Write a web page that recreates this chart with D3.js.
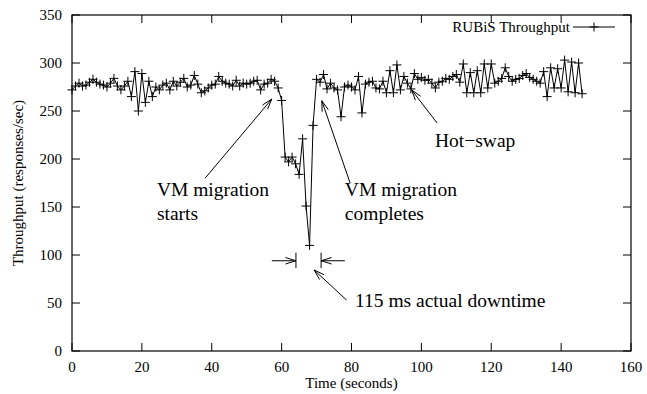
<!DOCTYPE html>
<html>
<head>
<meta charset="utf-8">
<script src="https://cdn.jsdelivr.net/npm/d3@7"></script>
<style>
  body { margin: 0; background: #fff; }
  svg text { font-family: "Liberation Serif", "Times New Roman", serif; fill: #000; }
</style>
</head>
<body>
<svg id="chart" width="647" height="394"></svg>
<script>
"use strict";

// RUBiS throughput, one sample per second (t = 0..146)
const throughput = [
  272, 276, 279, 276, 277, 280, 283, 280, 278, 277,
  275, 279, 284, 276, 272, 276, 281, 265, 291, 250,
  289, 259, 281, 265, 275, 272, 277, 279, 272, 281,
  276, 280, 284, 275, 277, 287, 278, 269, 271, 274,
  277, 278, 286, 281, 279, 278, 276, 282, 276, 279,
  278, 279, 281, 282, 272, 278, 279, 283, 281, 274,
  261, 202, 197, 202, 195, 184, 221, 151, 110, 235,
  283, 280, 288, 273, 279, 274, 272, 244, 275, 277,
  275, 272, 286, 248, 278, 280, 281, 274, 273, 281,
  269, 292, 269, 298, 272, 286, 279, 273, 289, 283,
  285, 282, 283, 279, 274, 280, 281, 284, 283, 286,
  288, 280, 299, 269, 290, 269, 292, 269, 299, 274,
  299, 279, 281, 284, 295, 286, 281, 283, 284, 287,
  289, 285, 283, 281, 279, 291, 265, 295, 274, 294,
  274, 303, 270, 301, 269, 300, 268
];
const seconds = throughput.map((_, i) => i);

const xTicks = [0, 20, 40, 60, 80, 100, 120, 140, 160];
const yTicks = [0, 50, 100, 150, 200, 250, 300, 350];
const seriesName = "RUBiS Throughput";

// annotations in data units: [tailT, tailV, headT, headV]
const noteArrows = [
  [38.1, 180, 57.2, 262.5],
  [79.6, 175, 71.5, 260.7],
  [104.5, 237.5, 97.2, 272],
  [78.6, 53, 69.3, 84.4]
];
const noteTexts = [
  { t: 24.3, v: 161.5, lines: ["VM migration", "starts"] },
  { t: 78.1, v: 161.5, lines: ["VM migration", "completes"] },
  { t: 103.9, v: 212.5, lines: ["Hot\u2212swap"] },
  { t: 81, v: 46, lines: ["115 ms actual downtime"] }
];
const downtime = { start: 64.1, end: 71.3, v: 94, lo: 86.5, hi: 102.4, from: 57.2, to: 78.1 };

const width = 647, height = 394;
const margin = { left: 72, right: 16, top: 15, bottom: 43 };

const svg = d3.select("#chart");
const x = d3.scaleLinear().domain([0, 160]).range([margin.left, width - margin.right]);
const y = d3.scaleLinear().domain([0, 350]).range([height - margin.bottom, margin.top]);

const tickLen = 8;

// ticks (inward, mirrored on all sides)
const axisG = svg.append("g").attr("stroke", "#000").attr("stroke-width", 1);
yTicks.forEach(v => {
  axisG.append("line").attr("x1", x(0)).attr("x2", x(0) + tickLen).attr("y1", y(v)).attr("y2", y(v));
  axisG.append("line").attr("x1", x(160)).attr("x2", x(160) - tickLen).attr("y1", y(v)).attr("y2", y(v));
});
xTicks.forEach(t => {
  axisG.append("line").attr("x1", x(t)).attr("x2", x(t)).attr("y1", y(0)).attr("y2", y(0) - tickLen);
  axisG.append("line").attr("x1", x(t)).attr("x2", x(t)).attr("y1", y(350)).attr("y2", y(350) + tickLen);
});
svg.append("rect")
  .attr("x", x(0)).attr("y", y(350))
  .attr("width", x(160) - x(0)).attr("height", y(0) - y(350))
  .attr("fill", "none").attr("stroke", "#000").attr("stroke-width", 1.2);

svg.append("g").selectAll("text").data(yTicks).join("text")
  .attr("x", x(0) - 10).attr("y", d => y(d) + 5)
  .attr("text-anchor", "end").attr("font-size", 15)
  .text(d => d);
svg.append("g").selectAll("text").data(xTicks).join("text")
  .attr("x", d => x(d)).attr("y", y(0) + 21)
  .attr("text-anchor", "middle").attr("font-size", 15)
  .text(d => d);

svg.append("text")
  .attr("x", (x(0) + x(160)) / 2).attr("y", 388)
  .attr("text-anchor", "middle").attr("font-size", 15)
  .text("Time (seconds)");
svg.append("text")
  .attr("transform", `translate(23,${(y(0) + y(350)) / 2}) rotate(-90)`)
  .attr("text-anchor", "middle").attr("font-size", 15)
  .text("Throughput (responses/sec)");

// data line + markers
const line = d3.line().x((d, i) => x(seconds[i])).y(d => y(d));
svg.append("path").datum(throughput)
  .attr("d", line).attr("fill", "none").attr("stroke", "#000").attr("stroke-width", 1);

const ms = 4.5;
const plus = (cx, cy) => `M${cx - ms},${cy}H${cx + ms}M${cx},${cy - ms}V${cy + ms}`;
svg.append("path")
  .attr("d", throughput.map((v, i) => plus(x(seconds[i]), y(v))).join(""))
  .attr("stroke", "#000").attr("stroke-width", 1).attr("fill", "none");

// legend
const legY = 27;
svg.append("text").attr("x", 570).attr("y", legY + 5)
  .attr("text-anchor", "end").attr("font-size", 15).text(seriesName);
svg.append("line").attr("x1", 573).attr("x2", 615).attr("y1", legY).attr("y2", legY)
  .attr("stroke", "#000");
svg.append("path").attr("d", plus(594, legY)).attr("stroke", "#000");

// arrows
function arrow(g, x1, y1, x2, y2) {
  const a = Math.atan2(y2 - y1, x2 - x1), L = 11, w = 0.3;
  g.append("line").attr("x1", x1).attr("y1", y1).attr("x2", x2).attr("y2", y2);
  g.append("path").attr("d",
    `M${x2 - L * Math.cos(a - w)},${y2 - L * Math.sin(a - w)}L${x2},${y2}L${x2 - L * Math.cos(a + w)},${y2 - L * Math.sin(a + w)}`)
    .attr("fill", "none");
}
const annG = svg.append("g").attr("stroke", "#000").attr("stroke-width", 1);
noteArrows.forEach(d => arrow(annG, x(d[0]), y(d[1]), x(d[2]), y(d[3])));

arrow(annG, x(downtime.from), y(downtime.v), x(downtime.start), y(downtime.v));
arrow(annG, x(downtime.to), y(downtime.v), x(downtime.end), y(downtime.v));
[downtime.start, downtime.end].forEach(t => {
  annG.append("line").attr("x1", x(t)).attr("x2", x(t))
    .attr("y1", y(downtime.hi)).attr("y2", y(downtime.lo));
});

noteTexts.forEach(n => {
  const tx = svg.append("text").attr("x", x(n.t)).attr("y", y(n.v)).attr("font-size", 19.5);
  n.lines.forEach((s, i) => {
    tx.append("tspan").attr("x", x(n.t)).attr("dy", i === 0 ? 0 : 24).text(s);
  });
});
</script>
</body>
</html>
